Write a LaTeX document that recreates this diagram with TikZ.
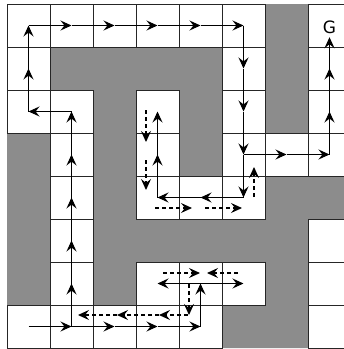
\documentclass[tikz,border=0pt]{standalone}
\usepackage{fontspec}
\newfontfamily\gfont{DejaVu Sans}
\usetikzlibrary{arrows.meta,calc}
\definecolor{wallgray}{RGB}{140,140,140}
\begin{document}
\begin{tikzpicture}[x=1pt,y=-1pt,
  cellbox/.style={draw=black!85, line width=1pt},
  wall/.style={fill=wallgray, draw=none},
  sarr/.style={-{Stealth[length=11pt,width=10pt,inset=4pt]}, line width=1.1pt, draw=black},
  darr/.style={sarr, dash pattern=on 4pt off 3pt, line width=1.1pt},
  goal/.style={font=\gfont\fontsize{17}{17}\selectfont, inner sep=0pt, minimum height=20pt}
]
\useasboundingbox (0,0) rectangle (344,349);
\fill[white] (0,0) rectangle (344,349);
\clip (0,0) rectangle (344,349);
% walls
\fill[wall] \foreach \c/\r in {6/0,1/1,2/1,3/1,4/1,6/1,2/2,4/2,6/2,0/3,2/3,4/3,0/4,2/4,6/4,7/4,0/5,2/5,3/5,4/5,5/5,6/5,0/6,2/6,6/6,5/7,6/7}
  { ({7+43*\c},{4+43*\r}) rectangle ++(43,43) };
% free cells
\foreach \c/\r in {0/0,1/0,2/0,3/0,4/0,5/0,7/0,0/1,5/1,7/1,0/2,1/2,3/2,5/2,7/2,1/3,3/3,5/3,6/3,7/3,1/4,3/4,4/4,5/4,1/5,7/5,1/6,3/6,4/6,5/6,7/6,0/7,1/7,2/7,3/7,4/7,7/7}
  \draw[cellbox] ({7+43*\c},{4+43*\r}) rectangle ++(43,43);
% cell centres
\foreach \x in {0,...,7}
  \foreach \y in {0,...,7}
    \coordinate (c\x\y) at ({28.5+43*\x},{25.5+43*\y});
\node[goal] (G) at (329.5,27) {G};
% solid search path
\foreach \a/\b in {07/17,17/16,16/15,15/14,14/13,13/12,12/02,02/01,01/00,00/10,10/20,20/30,30/40,40/50,50/51,51/52,52/53,53/54,54/44,44/34,34/33,33/32,53/63,63/73,73/72,72/71,17/27,27/37,37/47,47/46,46/36,46/56}
  \draw[sarr] (c\a) -- (c\b);
\draw[sarr] (c71) -- (G.south);
% dashed backtracking
\draw[darr] ($(c32)+(-11.5,-1.5)$) -- ($(c33)+(-11.5,-12.5)$);
\draw[darr] ($(c33)+(-11.5,5.5)$) -- ($(c34)+(-11.5,-7.5)$);
\draw[darr] ($(c34)+(-2.5,10.5)$) -- ($(c44)+(-8.5,10.5)$);
\draw[darr] ($(c44)+(4.5,10.5)$) -- ($(c54)+(-1.5,10.5)$);
\draw[darr] ($(c54)+(10.5,-0.5)$) -- ($(c53)+(10.5,12.5)$);
\draw[darr] ($(c36)+(5.5,-10.5)$) -- ($(c46)+(-0.5,-10.5)$);
\draw[darr] ($(c56)+(-5.5,-10.5)$) -- ($(c46)+(6.5,-10.5)$);
\draw[darr] ($(c46)+(-11.5,0.5)$) -- ($(c47)+(-11.5,-11.5)$);
\draw[darr] ($(c47)+(-12.5,-11.5)$) -- ($(c37)+(1.5,-11.5)$);
\draw[darr] ($(c37)+(1.5,-11.5)$) -- ($(c27)+(2.5,-11.5)$);
\draw[darr] ($(c27)+(2.5,-11.5)$) -- ($(c17)+(6.5,-11.5)$);
\end{tikzpicture}
\end{document}
